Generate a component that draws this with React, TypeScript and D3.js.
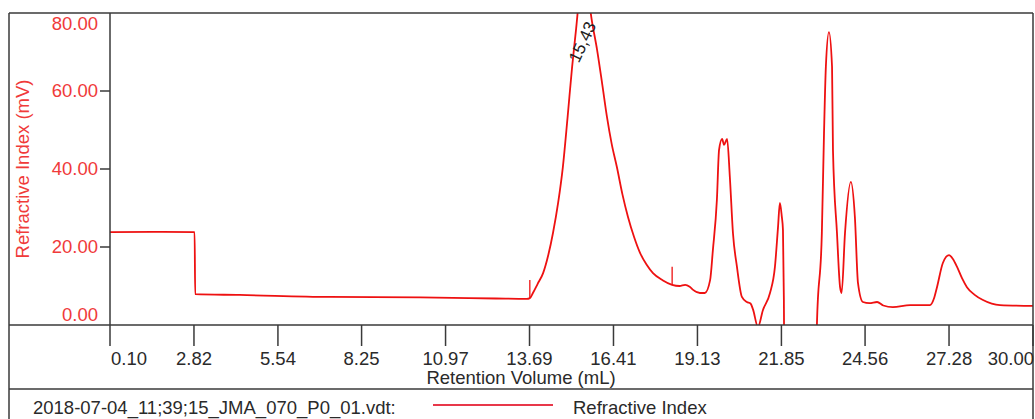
import React from "react";
import * as d3 from "d3";

const volumeML: number[] = [
  0.10, 1.50, 2.84, 2.86, 4.30, 7.20, 10.15, 12.60, 13.60,
  13.70, 13.80, 13.95, 14.13, 14.30, 14.45, 14.62, 14.77, 14.92, 15.07, 15.20, 15.30, 15.43, 15.58, 15.71, 15.88,
  16.05, 16.20, 16.35, 16.52, 16.70, 16.88, 17.08, 17.27, 17.48, 17.69, 18.00, 18.31, 18.55, 18.73, 18.88, 18.99,
  19.21, 19.37, 19.54, 19.63, 19.76, 19.83, 19.93, 19.99, 20.09, 20.18, 20.28, 20.41, 20.57, 20.73, 20.85, 20.93,
  21.09, 21.25, 21.48, 21.64, 21.74, 21.80, 21.86, 21.90, 21.93, 21.95, 22.98, 23.00, 23.16, 23.23, 23.29, 23.39,
  23.49, 23.52, 23.65, 23.75, 23.80, 23.91, 24.10, 24.23, 24.33, 24.49, 24.70, 24.95, 25.15, 25.46, 26.02, 26.66,
  26.80, 26.89, 27.08, 27.28, 27.40, 27.54, 27.70, 27.86, 28.10, 28.38, 28.93, 30.00,
];

const signalMV: number[] = [
  23.8, 23.9, 23.8, 7.9, 7.7, 7.2, 7.1, 6.8, 6.7,
  6.9, 8.2, 10.5, 13.3, 18.0, 23.6, 31.5, 40.5, 53.0, 66.2, 76.0, 84.0, 90.0, 85.0, 78.0, 70.5,
  61.5, 53.3, 46.5, 40.5, 33.5, 27.7, 22.5, 18.5, 15.5, 13.3, 11.5, 10.3, 10.0, 10.3, 9.8, 9.0,
  8.2, 8.2, 11.5, 19.2, 32.1, 44.9, 47.7, 46.2, 47.7, 37.9, 23.6, 14.9, 7.2, 5.9, 5.5, 4.0,
  -0.5, 3.8, 8.2, 14.9, 25.1, 31.3, 28.0, 24.4, 6.4, -20.0, -20.0, 0.0, 23.6, 49.2, 66.2, 75.1,
  66.2, 44.9, 23.6, 9.7, 8.2, 23.6, 36.7, 27.7, 10.8, 5.9, 5.6, 5.9, 5.0, 4.6, 5.1, 5.1,
  7.0, 9.7, 15.9, 17.9, 17.0, 14.9, 12.0, 9.7, 7.8, 6.4, 5.1, 4.9,
];

const xTickValues: number[] = [0.10, 2.82, 5.54, 8.25, 10.97, 13.69, 16.41, 19.13, 21.85, 24.56, 27.28, 30.00];
const yTickValues: number[] = [0, 20, 40, 60, 80];
const markerVolumes: number[] = [13.70, 18.31];
const peakLabelVolume = 15.43;
const peakLabelText = "15,43";

const xTitle = "Retention Volume (mL)";
const yTitle = "Refractive Index (mV)";
const legendFile = "2018-07-04_11;39;15_JMA_070_P0_01.vdt:";
const legendSeries = "Refractive Index";

export default function App() {
  const W = 1035, H = 419;
  const frameL = 9, frameR = 1033, frameT = 13;
  const plotL = 110, plotR = 1033, plotT = 13, plotB = 325;
  const legendSep = 389;
  const font = "'Liberation Sans', Arial, sans-serif";
  const fs = 18.5;
  const frameColor = "#3a3a3a";
  const red = "#ee1111";

  const x = d3.scaleLinear().domain([0.10, 30.00]).range([plotL, plotR]);
  const y = d3.scaleLinear().domain([0, 80]).range([plotB, plotT]);

  const data = volumeML.map((v, i) => [v, signalMV[i]] as [number, number]);
  const line = d3.line<[number, number]>()
    .x(d => x(d[0]))
    .y(d => y(d[1]))
    .curve(d3.curveMonotoneX);

  const valueAt = (v: number) => {
    const i = d3.bisector((d: [number, number]) => d[0]).left(data, v);
    if (i <= 0) return data[0][1];
    if (i >= data.length) return data[data.length - 1][1];
    const a = data[i - 1], b = data[i];
    const t = (v - a[0]) / (b[0] - a[0]);
    return a[1] + t * (b[1] - a[1]);
  };

  return (
    <svg width={W} height={H} style={{ position: "absolute", left: 0, top: 0, background: "#fff" }}>
      <defs>
        <clipPath id="plotClip">
          <rect x={plotL} y={plotT} width={plotR - plotL} height={plotB - plotT} />
        </clipPath>
      </defs>
      <rect x={0} y={0} width={W} height={H} fill="#fff" />

      {/* trace */}
      <g clipPath="url(#plotClip)">
        <path d={line(data) || ""} fill="none" stroke={red} strokeWidth={1.8} strokeLinejoin="round" />
        {markerVolumes.map((v, i) => {
          const yy = y(valueAt(v));
          return <line key={i} x1={x(v)} x2={x(v)} y1={yy - 18} y2={yy} stroke={red} strokeWidth={1.3} />;
        })}
      </g>

      {/* peak label */}
      <text
        transform={`translate(${x(peakLabelVolume) - 1},${42}) rotate(-65)`}
        textAnchor="middle"
        dy="0.35em"
        fontFamily={font}
        fontSize={17}
        fill="#222"
      >
        {peakLabelText}
      </text>

      {/* frame */}
      <line x1={frameL} x2={frameR} y1={frameT} y2={frameT} stroke={frameColor} strokeWidth={1.5} />
      <line x1={frameL} x2={frameL} y1={frameT} y2={H + 2} stroke={frameColor} strokeWidth={1.5} />
      <line x1={frameR} x2={frameR} y1={frameT} y2={H + 2} stroke={frameColor} strokeWidth={1.5} />
      <line x1={frameL} x2={frameR} y1={plotB} y2={plotB} stroke={frameColor} strokeWidth={1.5} />
      <line x1={frameL} x2={frameR} y1={legendSep} y2={legendSep} stroke={frameColor} strokeWidth={1.5} />
      <line x1={plotL} x2={plotL} y1={plotT} y2={plotB} stroke={frameColor} strokeWidth={1.5} />

      {/* y axis */}
      {yTickValues.map((t, i) => {
        const yy = y(t);
        const isEdge = i === 0 || i === yTickValues.length - 1;
        const labelY = i === 0 ? plotB - 10 : i === yTickValues.length - 1 ? plotT + 11 : yy;
        return (
          <g key={t}>
            {!isEdge && <line x1={plotL - 10} x2={plotL} y1={yy} y2={yy} stroke={frameColor} strokeWidth={1.5} />}
            <text x={plotL - 12} y={labelY} dy="0.35em" textAnchor="end" fontFamily={font} fontSize={fs} fill="#f03a3a">
              {t.toFixed(2)}
            </text>
          </g>
        );
      })}
      <text
        transform={`translate(${23},${(plotT + plotB) / 2}) rotate(-90)`}
        textAnchor="middle"
        dy="0.35em"
        fontFamily={font}
        fontSize={fs}
        fill="#f03a3a"
      >
        {yTitle}
      </text>

      {/* x axis */}
      {xTickValues.map((t, i) => {
        const xx = x(t);
        const first = i === 0, last = i === xTickValues.length - 1;
        return (
          <g key={t}>
            <line x1={xx} x2={xx} y1={plotB} y2={plotB + 21} stroke={frameColor} strokeWidth={1.5} />
            <text
              x={first ? xx + 1 : last ? xx + 1 : xx}
              y={365}
              textAnchor={first ? "start" : last ? "end" : "middle"}
              fontFamily={font}
              fontSize={fs}
              fill="#2a2a2a"
            >
              {t.toFixed(2)}
            </text>
          </g>
        );
      })}
      <text x={(frameL + frameR) / 2} y={384} textAnchor="middle" fontFamily={font} fontSize={fs} fill="#2a2a2a">
        {xTitle}
      </text>

      {/* legend */}
      <text x={33} y={414} fontFamily={font} fontSize={fs} fill="#2a2a2a">{legendFile}</text>
      <line x1={433} x2={553} y1={405} y2={405} stroke="#e8384a" strokeWidth={1.8} />
      <text x={573} y={414} fontFamily={font} fontSize={fs} fill="#2a2a2a">{legendSeries}</text>
    </svg>
  );
}
